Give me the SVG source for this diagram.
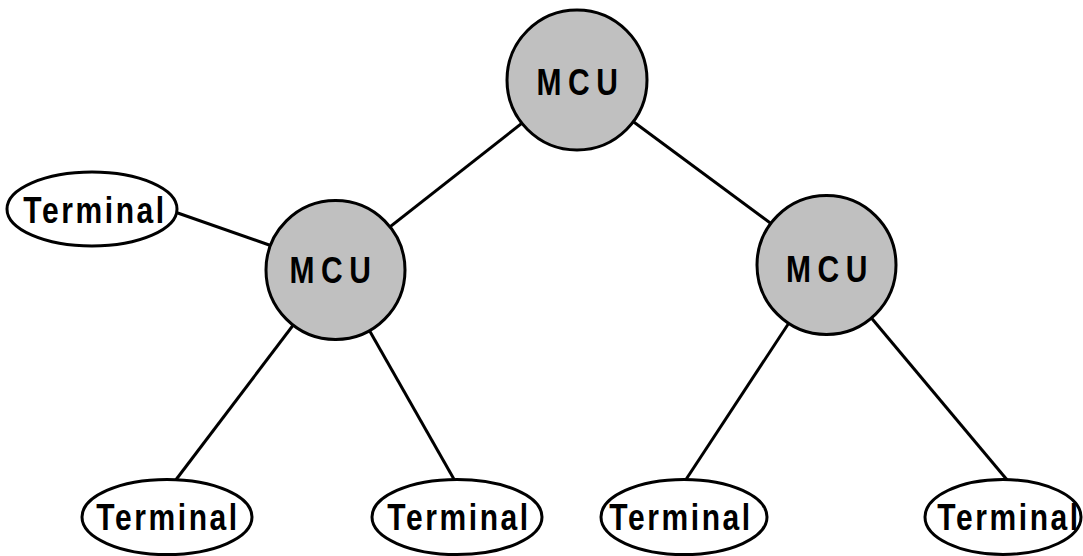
<svg xmlns="http://www.w3.org/2000/svg" width="1083" height="556" viewBox="0 0 1083 556">
<style>
.mcu{fill:#c0c0c0;stroke:#000;stroke-width:3}
.term{fill:#fff;stroke:#000;stroke-width:3}
.ln{stroke:#000;stroke-width:3;fill:none}
.t{font-family:"Liberation Sans",Arial,sans-serif;font-weight:bold;font-size:30px;text-anchor:middle;fill:#000}
.tm{letter-spacing:6.5px}
.tt{letter-spacing:2.6px}
</style>
<rect width="1083" height="556" fill="#fff"/>
<g id="connectors">
<line class="ln" x1="577" y1="80" x2="335" y2="270"/>
<line class="ln" x1="577" y1="80" x2="827" y2="265"/>
<line class="ln" x1="172" y1="211" x2="272" y2="246"/>
<line class="ln" x1="335" y1="270" x2="175" y2="481"/>
<line class="ln" x1="335" y1="270" x2="455" y2="481"/>
<line class="ln" x1="827" y1="265" x2="685" y2="481"/>
<line class="ln" x1="827" y1="265" x2="1008" y2="481"/>
</g>
<g id="mcu-top">
<circle class="mcu" cx="577" cy="80" r="70"/>
<text class="t tm" transform="translate(580.5,95) scale(1,1.22)">MCU</text>
</g>
<g id="mcu-left">
<circle class="mcu" cx="335.5" cy="270" r="69.5"/>
<text class="t tm" transform="translate(333.5,283) scale(1,1.22)">MCU</text>
</g>
<g id="mcu-right">
<circle class="mcu" cx="826.5" cy="265" r="69.5"/>
<text class="t tm" transform="translate(830,281.5) scale(1,1.22)">MCU</text>
</g>
<g id="terminal-left">
<ellipse class="term" cx="92" cy="209" rx="85" ry="37"/>
<text class="t tt" transform="translate(95,222.5) scale(1,1.22)">Terminal</text>
</g>
<g id="terminal-1">
<ellipse class="term" cx="167" cy="517" rx="85" ry="37.5"/>
<text class="t tt" transform="translate(168,530) scale(1,1.22)">Terminal</text>
</g>
<g id="terminal-2">
<ellipse class="term" cx="457" cy="517" rx="85" ry="37.5"/>
<text class="t tt" transform="translate(459,530) scale(1,1.22)">Terminal</text>
</g>
<g id="terminal-3">
<ellipse class="term" cx="684" cy="517" rx="83" ry="37.5"/>
<text class="t tt" transform="translate(681,530) scale(1,1.22)">Terminal</text>
</g>
<g id="terminal-4">
<ellipse class="term" cx="1003" cy="517" rx="78" ry="37.5"/>
<text class="t tt" transform="translate(1009,530) scale(1,1.22)">Terminal</text>
</g>
</svg>
